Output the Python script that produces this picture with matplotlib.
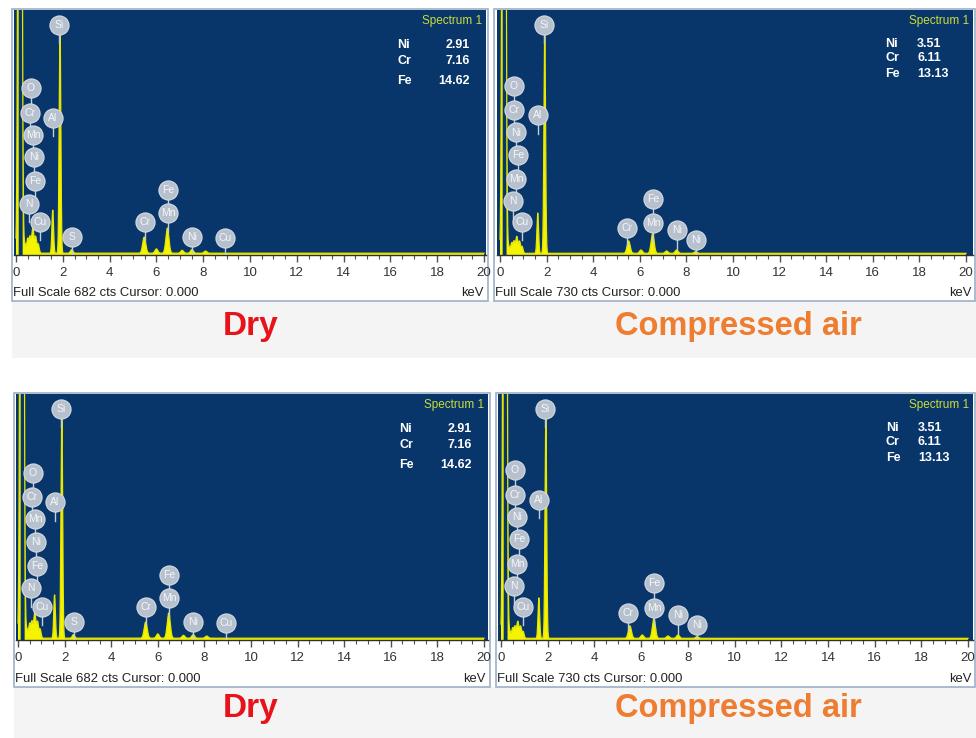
import numpy as np
import matplotlib
matplotlib.use("Agg")
import matplotlib.pyplot as plt
import matplotlib.transforms as mtransforms
from matplotlib.patches import Rectangle

# ---- spectrum data (peak energy keV, peak counts, peak width keV) ----
dry_full_scale = 682
dry_peak_e = [0.17, 0.38, 0.50, 0.60, 0.72, 0.84, 0.95, 1.57, 1.88, 2.38, 5.48, 6.00, 6.47, 7.10, 7.52, 8.10]
dry_peak_h = [5000, 25, 40, 45, 70, 45, 25, 120, 640, 10, 45, 12, 70, 8, 10, 6]
dry_peak_w = [0.055, 0.04, 0.04, 0.04, 0.045, 0.04, 0.04, 0.035, 0.035, 0.05, 0.065, 0.06, 0.065, 0.06, 0.06, 0.06]

air_full_scale = 730
air_peak_e = [0.17, 0.38, 0.50, 0.60, 0.72, 0.84, 0.95, 1.62, 1.92, 5.52, 6.05, 6.55, 7.15, 7.58, 8.40]
air_peak_h = [5000, 20, 30, 35, 50, 35, 20, 120, 670, 37, 10, 58, 7, 10, 5]
air_peak_w = [0.055, 0.04, 0.04, 0.04, 0.045, 0.04, 0.04, 0.035, 0.035, 0.065, 0.06, 0.065, 0.06, 0.06, 0.06]

baseline_cts = 5

# element tags on the spectra
dry_tags = ["Si", "O", "Cr", "Al", "Mn", "Ni", "Fe", "N", "Cu", "S", "Cr", "Fe", "Mn", "Ni", "Cu"]
dry_tag_e = [1.84, 0.64, 0.60, 1.58, 0.73, 0.77, 0.81, 0.56, 1.03, 2.39, 5.51, 6.50, 6.50, 7.52, 8.93]
dry_tag_y = [0.94, 0.68, 0.58, 0.56, 0.49, 0.40, 0.30, 0.21, 0.135, 0.073, 0.135, 0.265, 0.17, 0.073, 0.07]

air_tags = ["Si", "O", "Cr", "Al", "Ni", "Fe", "Mn", "N", "Cu", "Cr", "Fe", "Mn", "Ni", "Ni"]
air_tag_e = [1.89, 0.60, 0.60, 1.63, 0.69, 0.77, 0.69, 0.56, 0.94, 5.45, 6.57, 6.57, 7.60, 8.41]
air_tag_y = [0.94, 0.69, 0.59, 0.57, 0.50, 0.41, 0.31, 0.22, 0.135, 0.11, 0.23, 0.13, 0.10, 0.06]

# quantification boxes
quant_elem = ["Ni", "Cr", "Fe"]
dry_quant = ["2.91", "7.16", "14.62"]
air_quant = ["3.51", "6.11", "13.13"]

W, H = 976, 738
BLUE = "#08356a"
YELLOW = "#f4f400"
FONT = ["Liberation Sans", "DejaVu Sans"]


def fx(px):
    return px / W


def fy(py):
    return 1 - py / H


def spectrum(energy, peak_e, peak_h, peak_w):
    counts = np.full_like(energy, baseline_cts, dtype=float)
    for e, h, w in zip(peak_e, peak_h, peak_w):
        counts += h * np.exp(-0.5 * ((energy - e) / w) ** 2)
    return counts


fig = plt.figure(figsize=(W / 100, H / 100), dpi=100)
fig.patch.set_facecolor("white")

# gray caption bands
for top, bot, left in [(301, 358, 12), (687, 738, 14)]:
    fig.patches.append(Rectangle((fx(left), fy(bot)), fx(W - left), (bot - top) / H,
                                 transform=fig.transFigure, fc="#f4f4f4", ec="none", zorder=-2))

energy = np.linspace(0, 20, 4001)

# (blue left, top, right, bottom), px of 0 keV, px of 20 keV, frame box, spectrum kind
panels = [
    ((14, 10, 486, 255), 16, 484, (12, 9, 488, 301), "dry"),
    ((497, 10, 973, 255), 500, 966, (494, 9, 975, 301), "air"),
    ((16, 394, 488, 640), 18, 484, (14, 393, 490, 687), "dry"),
    ((498, 394, 973, 640), 501, 968, (496, 393, 975, 687), "air"),
]

for (l, t, r, b), x0, x20, (fl, ft, fr, fb), kind in panels:
    if kind == "dry":
        pe, ph, pw, fs = dry_peak_e, dry_peak_h, dry_peak_w, dry_full_scale
        tags, tag_e, tag_y, quant = dry_tags, dry_tag_e, dry_tag_y, dry_quant
    else:
        pe, ph, pw, fs = air_peak_e, air_peak_h, air_peak_w, air_full_scale
        tags, tag_e, tag_y, quant = air_tags, air_tag_e, air_tag_y, air_quant

    # panel frame
    fig.patches.append(Rectangle((fx(fl), fy(fb)), (fr - fl) / W, (fb - ft) / H,
                                 transform=fig.transFigure, fc="white", ec="#9db0c8", lw=1.2, zorder=-1))

    ax = fig.add_axes([fx(l), fy(b), (r - l) / W, (b - t) / H])
    ax.set_facecolor(BLUE)
    s = (x20 - x0) / 20
    ax.set_xlim((l - x0) / s, (r - x0) / s)
    ax.set_ylim(0, fs)

    counts = spectrum(energy, pe, ph, pw)
    # the off-scale first peak is only filled on its rising side
    filled = (counts <= fs) | (energy < pe[0] - pw[0])
    ax.fill_between(energy, 0, np.minimum(counts, fs), where=filled, color=YELLOW, lw=0, zorder=2)
    ax.plot(energy, counts, color="#e6e600", lw=0.9, zorder=3)

    # element tags
    trans = mtransforms.blended_transform_factory(ax.transData, ax.transAxes)
    for name, e, yy in zip(tags, tag_e, tag_y):
        ax.plot([e, e], [yy - 0.075, yy - 0.03], color="#c4cdd8", lw=1.0, transform=trans, zorder=4)
        ax.scatter([e], [yy], s=190, color="#b7c1ce", edgecolors="#d5dbe3", linewidths=0.8,
                   transform=trans, zorder=5)
        ax.text(e, yy, name, transform=trans, ha="center", va="center", fontsize=7.5,
                color="#f4f6f8", family=FONT, zorder=6)

    ax.set_yticks([])
    ax.set_xticks(np.arange(0, 21, 2))
    ax.set_xticks(np.arange(0, 20.1, 0.5), minor=True)
    ax.tick_params(axis="x", which="major", direction="out", length=5, width=1, color="#505050",
                   labelsize=9.5, labelcolor="#333333", pad=3.5)
    ax.tick_params(axis="x", which="minor", direction="out", length=3, width=0.8, color="#505050")
    for lab in ax.get_xticklabels():
        lab.set_family(FONT)
    for side in ["top", "left", "right"]:
        ax.spines[side].set_visible(False)
    ax.spines["bottom"].set_color("#303030")
    ax.spines["bottom"].set_linewidth(1.0)

    # spectrum header and quantification
    ax.text(0.992, 0.955, "Spectrum 1", transform=ax.transAxes, ha="right", va="center",
            fontsize=8.5, color="#cddc39", family=FONT)
    if kind == "dry":
        name_x, val_x, ha_val = l + 383, l + 456, "right"
        rows = [t + 35, t + 51, t + 71]
    else:
        name_x, val_x, ha_val = l + 388, l + 420, "left"
        rows = [t + 34, t + 48, t + 64]
    for el, val, ry in zip(quant_elem, quant, rows):
        fig.text(fx(name_x), fy(ry), el, ha="left", va="center", fontsize=9,
                 fontweight="bold", color="white", family=FONT)
        fig.text(fx(val_x), fy(ry), val, ha=ha_val, va="center", fontsize=9,
                 fontweight="bold", color="white", family=FONT)

    fig.text(fx(fl + 1), fy(fb - 8), "Full Scale %d cts Cursor: 0.000" % fs, ha="left", va="center",
             fontsize=9.4, color="#222222", family=FONT)
    fig.text(fx(fr - 4), fy(fb - 8), "keV", ha="right", va="center",
             fontsize=9.4, color="#222222", family=FONT)

# captions
for cy in [326, 709]:
    fig.text(fx(251), fy(cy), "Dry", ha="center", va="center", fontsize=24,
             fontweight="bold", color="#e8121b", family=FONT)
    fig.text(fx(738), fy(cy), "Compressed air", ha="center", va="center", fontsize=23.5,
             fontweight="bold", color="#ee7d31", family=FONT)

fig.savefig("out.png", dpi=100)
